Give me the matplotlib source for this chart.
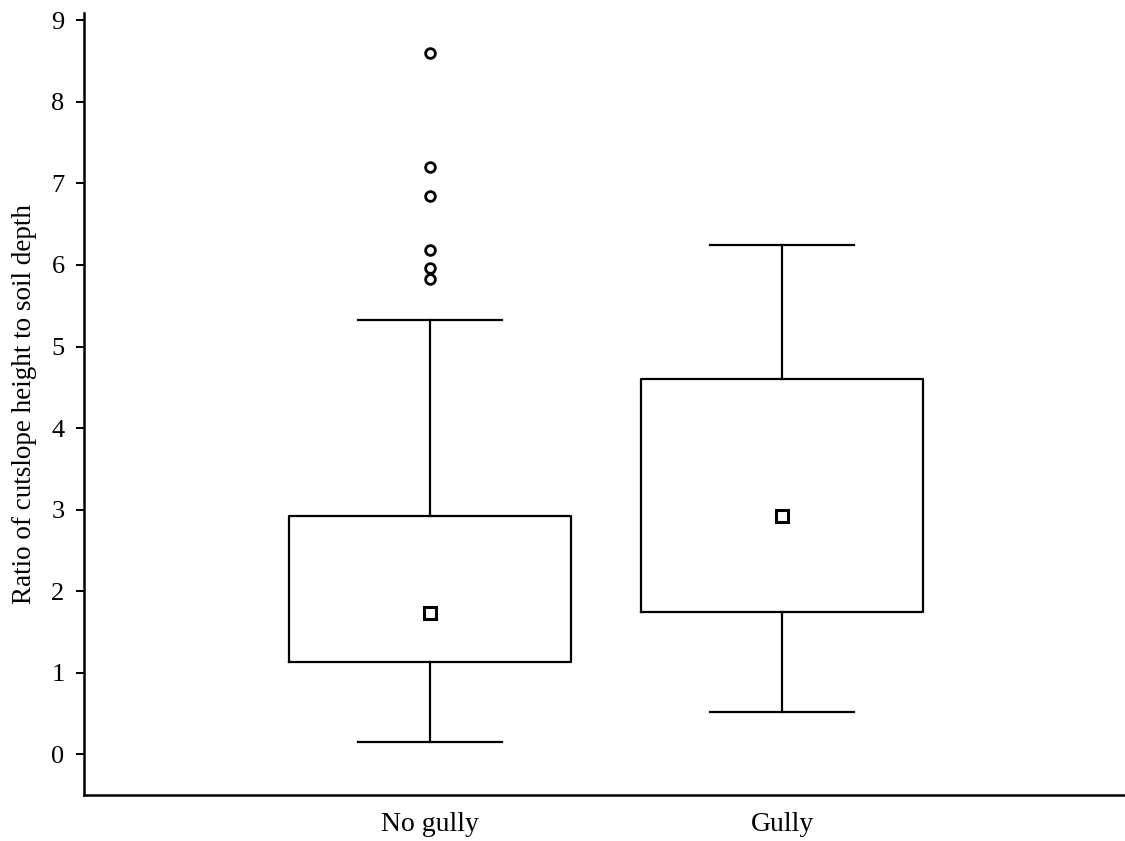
import matplotlib
matplotlib.use("Agg")
import matplotlib.pyplot as plt

# Box statistics
groups = ["No gully", "Gully"]
q1 = [1.13, 1.74]
q3 = [2.92, 4.60]
medians = [1.73, 2.92]
whisker_lo = [0.15, 0.52]
whisker_hi = [5.33, 6.25]
outliers = [[8.60, 7.20, 6.85, 6.18, 5.96, 5.83], []]

plt.rcParams["font.family"] = ["Liberation Serif", "DejaVu Serif"]

fig = plt.figure(figsize=(11.25, 8.41), dpi=100)
ax = fig.add_axes([0.0747, 0.0547, 0.9253, 0.9298])

stats = []
for i, name in enumerate(groups):
	stats.append(dict(
		label=name,
		q1=q1[i],
		q3=q3[i],
		med=medians[i],
		mean=medians[i],
		whislo=whisker_lo[i],
		whishi=whisker_hi[i],
		fliers=outliers[i],
	))

ax.bxp(
	stats,
	positions=[1, 2],
	widths=0.8,
	showmeans=True,
	showcaps=True,
	boxprops=dict(color="black", linewidth=1.6),
	whiskerprops=dict(color="black", linewidth=1.6),
	capprops=dict(color="black", linewidth=1.6),
	capwidths=0.41,
	medianprops=dict(linewidth=0),
	meanprops=dict(marker="s", markersize=9, markerfacecolor="white",
				   markeredgecolor="black", markeredgewidth=2.2),
	flierprops=dict(marker="o", markersize=7, markerfacecolor="white",
					markeredgecolor="black", markeredgewidth=2.0),
)

ax.set_xlim(0.017, 2.974)
ax.set_ylim(-0.5, 9.09)
ax.set_yticks(range(0, 10))
ax.set_xticks([1, 2])
ax.set_xticklabels(groups)
ax.tick_params(axis="y", labelsize=19, length=6, width=1.4, direction="out", pad=8)
ax.tick_params(axis="x", labelsize=20, length=0, pad=12)
ax.set_ylabel("Ratio of cutslope height to soil depth", fontsize=19.5, labelpad=10)

for side in ["top", "right"]:
	ax.spines[side].set_visible(False)
for side in ["left", "bottom"]:
	ax.spines[side].set_linewidth(1.8)

fig.savefig("out.png", dpi=100)
